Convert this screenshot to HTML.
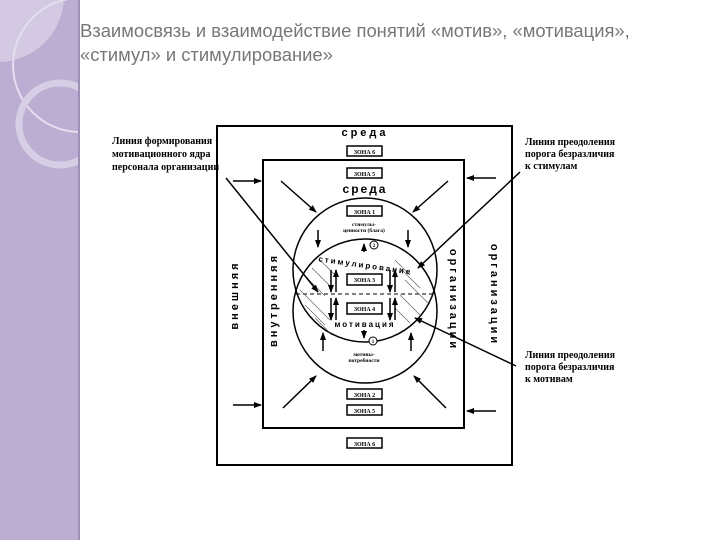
<!DOCTYPE html>
<html><head><meta charset="utf-8"><style>
body{margin:0;width:720px;height:540px;overflow:hidden;background:#fff;font-family:"Liberation Sans",sans-serif}
</style></head><body>
<svg width="720" height="540" viewBox="0 0 720 540" xmlns="http://www.w3.org/2000/svg">
<defs>
<marker id="a" markerWidth="8" markerHeight="8" refX="7" refY="4" orient="auto" markerUnits="userSpaceOnUse"><path d="M0,1 L8,4 L0,7z" fill="#000"/></marker>
<clipPath id="c"><rect x="0" y="0" width="79" height="540"/></clipPath>
</defs>
<rect x="0" y="0" width="79" height="540" fill="#bcaed2"/>
<g clip-path="url(#c)">
<circle cx="-2" cy="-4" r="66" fill="#d3c9e2"/>
<circle cx="80" cy="65" r="67" fill="none" stroke="#e4ddee" stroke-width="2"/>
<circle cx="60" cy="124" r="41" fill="none" stroke="#d6cee4" stroke-width="7"/>
</g>
<rect x="78" y="0" width="2" height="540" fill="#9f90b8"/>
<text x="80" y="37" font-size="18.4" fill="#777">Взаимосвязь и взаимодействие понятий «мотив», «мотивация»,</text>
<text x="80" y="61" font-size="18.4" fill="#777">«стимул» и стимулирование»</text>

<g font-family="Liberation Serif,serif" font-weight="bold" font-size="10" fill="#000">
<text x="112" y="144">Линия формирования</text>
<text x="112" y="157">мотивационного ядра</text>
<text x="112" y="170">персонала организации</text>
<text x="525" y="145">Линия преодоления</text>
<text x="525" y="157">порога безразличия</text>
<text x="525" y="169">к стимулам</text>
<text x="525" y="358">Линия преодоления</text>
<text x="525" y="370">порога безразличия</text>
<text x="525" y="382">к мотивам</text>
</g>

<g fill="none" stroke="#000">
<path d="M217,135 V126 H512 V465 H217 V135" stroke-width="2"/>
<rect x="263" y="160" width="201" height="268" stroke-width="2"/>
<circle cx="365" cy="270" r="72" stroke-width="1.5"/>
<circle cx="365" cy="311" r="72" stroke-width="1.5"/>
<line x1="296" y1="294" x2="434" y2="294" stroke-dasharray="4,3"/>
<g stroke-width="0.6" stroke="#555">
<path d="M320,260 L335,275 M312,268 L330,286 M305,276 L325,296 M300,290 L330,320 M305,305 L325,325 M315,318 L330,333 M395,260 L410,275 M400,268 L420,288 M405,280 L428,303 M400,295 L420,315 M395,308 L410,323"/>
</g>
</g>

<g stroke="#000" stroke-width="1.5" fill="none" marker-end="url(#a)">
<line x1="233" y1="181" x2="261" y2="181"/>
<line x1="233" y1="405" x2="261" y2="405"/>
<line x1="496" y1="178" x2="467" y2="178"/>
<line x1="496" y1="411" x2="467" y2="411"/>
<line x1="281" y1="181" x2="316" y2="212"/>
<line x1="448" y1="181" x2="413" y2="212"/>
<line x1="283" y1="408" x2="316" y2="376"/>
<line x1="446" y1="408" x2="414" y2="376"/>
<line x1="318" y1="230" x2="318" y2="247"/>
<line x1="408" y1="230" x2="408" y2="247"/>
<line x1="323" y1="351" x2="323" y2="333"/>
<line x1="411" y1="351" x2="411" y2="333"/>
<line x1="364" y1="252" x2="364" y2="244"/>
<line x1="364" y1="330" x2="364" y2="338"/>
<line x1="331" y1="270" x2="331" y2="292"/>
<line x1="336" y1="292" x2="336" y2="270"/>
<line x1="390" y1="270" x2="390" y2="292"/>
<line x1="395" y1="292" x2="395" y2="270"/>
<line x1="331" y1="298" x2="331" y2="320"/>
<line x1="336" y1="320" x2="336" y2="298"/>
<line x1="390" y1="298" x2="390" y2="320"/>
<line x1="395" y1="320" x2="395" y2="298"/>
<line x1="226" y1="178" x2="318" y2="292"/>
<line x1="520" y1="172" x2="418" y2="268"/>
<line x1="516" y1="366" x2="415" y2="318"/>
</g>

<g fill="#fff" stroke="#000" stroke-width="1.5">
<rect x="347" y="146" width="35" height="10"/>
<rect x="347" y="168" width="35" height="10"/>
<rect x="347" y="206" width="35" height="10"/>
<rect x="347" y="274" width="35" height="11"/>
<rect x="347" y="303" width="35" height="11"/>
<rect x="347" y="389" width="35" height="10"/>
<rect x="347" y="405" width="35" height="10"/>
<rect x="347" y="438" width="35" height="10"/>
<circle cx="374" cy="245" r="4" stroke-width="1"/>
<circle cx="373" cy="341" r="4" stroke-width="1"/>
</g>
<g font-family="Liberation Serif,serif" font-weight="bold" font-size="6" text-anchor="middle">
<text x="364.5" y="154">ЗОНА 6</text>
<text x="364.5" y="176">ЗОНА 5</text>
<text x="364.5" y="214">ЗОНА 1</text>
<text x="364.5" y="282">ЗОНА 3</text>
<text x="364.5" y="311">ЗОНА 4</text>
<text x="364.5" y="397">ЗОНА 2</text>
<text x="364.5" y="413">ЗОНА 5</text>
<text x="364.5" y="446">ЗОНА 6</text>
<text x="374" y="247" font-size="5">2</text>
<text x="373" y="343" font-size="5">1</text>
<text x="364" y="226" font-size="5.5">стимулы-</text>
<text x="364" y="232" font-size="5.5">ценности (блага)</text>
<text x="364" y="356" font-size="5.5">мотивы-</text>
<text x="364" y="362" font-size="5.5">потребности</text>
</g>
<g font-family="Liberation Sans,sans-serif" font-weight="bold" fill="#000">
<text x="365" y="136" font-size="11" text-anchor="middle" letter-spacing="3">среда</text>
<text x="365" y="193" font-size="12" text-anchor="middle" letter-spacing="2">среда</text>
<text x="365" y="268" font-size="8" text-anchor="middle" letter-spacing="2" transform="rotate(8 365 268)">стимулирование</text>
<text x="365" y="327" font-size="8" text-anchor="middle" letter-spacing="2">мотивация</text>
<text transform="translate(238,295) rotate(-90)" font-size="11" text-anchor="middle" letter-spacing="3">внешняя</text>
<text transform="translate(277,300) rotate(-90)" font-size="11" text-anchor="middle" letter-spacing="3">внутренняя</text>
<text transform="translate(450,300) rotate(90)" font-size="11" text-anchor="middle" letter-spacing="3">организации</text>
<text transform="translate(491,295) rotate(90)" font-size="11" text-anchor="middle" letter-spacing="3">организации</text>
</g>
</svg>
</body></html>
